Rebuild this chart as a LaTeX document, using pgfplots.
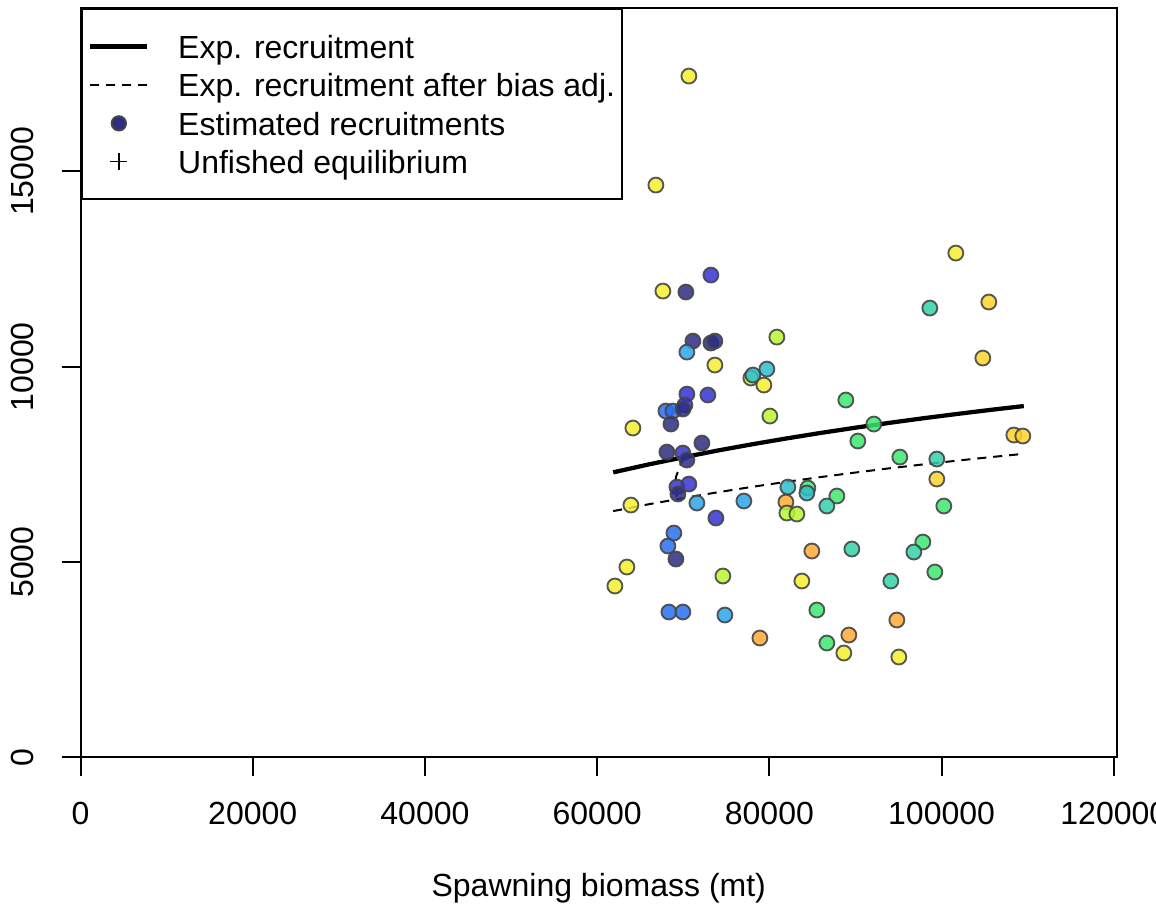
\documentclass[12pt,border=0pt]{standalone}
\usepackage{fontspec}
\setmainfont{Liberation Sans}
\usepackage{pgfplots}
\pgfplotsset{compat=1.18}
\definecolor{nv}{RGB}{45,45,130}
\definecolor{bl}{RGB}{50,50,210}
\definecolor{mb}{RGB}{40,110,240}
\definecolor{lb}{RGB}{45,165,235}
\definecolor{tl}{RGB}{45,190,205}
\definecolor{tg}{RGB}{50,210,170}
\definecolor{gr}{RGB}{60,232,110}
\definecolor{yg}{RGB}{185,245,50}
\definecolor{ye}{RGB}{245,238,45}
\definecolor{go}{RGB}{255,210,45}
\definecolor{or}{RGB}{255,170,50}
\definecolor{edgec}{RGB}{70,70,70}
\tikzset{pt/.style={draw=edgec, line width=0.7pt, fill opacity=0.85, draw opacity=0.9}}
\pgfplotstableread{
x y c
70653 17443 ye
66821 14652 ye
67634 11938 ye
70305 11913 nv
73209 12348 bl
71117 10658 nv
73209 10607 nv
73672 10658 nv
70421 10376 lb
73672 10044 ye
70421 9301 bl
72859 9276 bl
70188 9020 bl
67982 8866 mb
68795 8866 mb
69956 8917 nv
68563 8533 nv
64151 8431 ye
77852 9711 yg
78084 9788 tl
79710 9941 tl
79361 9532 ye
80871 10760 yg
80058 8738 yg
88882 9148 gr
92133 8533 gr
90276 8098 gr
95152 7688 gr
72162 8047 nv
68099 7816 nv
69956 7791 bl
70421 7612 nv
69260 6920 bl
70653 6997 bl
69376 6741 nv
63919 6459 ye
71582 6511 lb
77039 6562 lb
73790 6127 bl
68911 5743 mb
68215 5410 mb
69146 5077 nv
63454 4872 ye
62061 4386 ye
74601 4642 yg
68331 3720 mb
69956 3720 mb
74833 3643 lb
82148 6920 tl
84470 6895 gr
84354 6767 tl
81918 6536 or
87837 6690 gr
86676 6434 tg
82032 6255 yg
83193 6229 yg
84934 5282 or
89579 5333 tg
83773 4514 ye
94107 4514 tg
85515 3771 gr
78897 3054 or
86676 2926 gr
89231 3131 or
88650 2670 ye
94804 3515 or
95036 2568 ye
101654 12911 ye
98635 11503 tg
105486 11657 go
104789 10223 go
108389 8252 go
109434 8226 go
99448 7637 tg
99448 7125 go
100261 6434 gr
97823 5512 gr
96778 5256 tg
99218 4744 gr
}\recr
\begin{document}
\begin{tikzpicture}
\begin{axis}[
  scale only axis, width=388.7pt, height=281.0pt,
  xmin=0, xmax=120377, ymin=0, ymax=19187,
  axis line style={line width=0.75pt},
  every tick/.style={black, line width=0.75pt},
  tick align=outside, major tick length=7.1pt,
  xtick pos=bottom, ytick pos=left,
  xtick={0,20000,40000,60000,80000,100000,120000},
  ytick={0,5000,10000,15000},
  scaled ticks=false,
  /pgf/number format/.cd, fixed, 1000 sep={}, assume math mode=true, /pgfplots/.cd,
  tick label style={font=\fontsize{12}{14}\selectfont},
  xticklabel style={anchor=base, yshift=-18.0pt},
  yticklabel style={xshift=-10.7pt, rotate=90, anchor=base},
  xlabel={Spawning biomass (mt)},
  xlabel style={at={(axis description cs:0.5,0)}, anchor=base, yshift=-52.2pt, font=\fontsize{12}{14}\selectfont},
  legend cell align=left,
  legend style={at={(0,1)}, anchor=north west, draw=black, line width=0.75pt,
    inner xsep=2.55pt, inner ysep=9.6pt, row sep=5.4pt, column sep=10.8pt,
    font=\fontsize{12}{14}\selectfont,
    nodes={inner sep=0pt, text height=9pt, text depth=0pt}},
]
\addlegendimage{legend image code/.code={\path[draw=none,fill=none] (0pt,-2pt) rectangle (21.3pt,2pt); \draw[black, line width=1.6pt] (0pt,0pt) -- (21.3pt,0pt);}}
\addlegendentry{Exp. recruitment}
\addlegendimage{legend image code/.code={\path[draw=none,fill=none] (0pt,-2pt) rectangle (21.3pt,2pt); \draw[black, line width=0.5pt, dash pattern=on 3.2pt off 2.8pt] (0pt,0pt) -- (21.3pt,0pt);}}
\addlegendentry{Exp. recruitment after bias adj.\hspace{4pt}}
\addlegendimage{legend image code/.code={\path[draw=none,fill=none] (0pt,-2pt) rectangle (21.3pt,2pt); \filldraw[fill=nv, draw=edgec, line width=0.7pt] (10.65pt,0pt) circle (2.7pt);}}
\addlegendentry{Estimated recruitments}
\addlegendimage{legend image code/.code={\path[draw=none,fill=none] (0pt,-2pt) rectangle (21.3pt,2pt); \draw[black, line width=0.5pt] (7.5pt,0pt) -- (13.8pt,0pt) (10.65pt,-3.15pt) -- (10.65pt,3.15pt);}}
\addlegendentry{Unfished equilibrium}

\addplot[forget plot, black, line width=1.6pt] coordinates {
(61864,7296) (66000,7500) (70000,7681) (74000,7855) (78000,8015) (82000,8165)
(86000,8307) (90000,8440) (94000,8566) (98000,8685) (102000,8797) (106000,8904) (109550,8994)};
\addplot[forget plot, black, line width=0.75pt, dash pattern=on 3.4pt off 2.6pt] coordinates {
(61864,6304) (66000,6480) (70000,6636) (74000,6786) (78000,6925) (82000,7055)
(86000,7177) (90000,7292) (94000,7401) (98000,7503) (102000,7601) (106000,7693) (109200,7763)};
\addplot[forget plot, black, line width=0.75pt, dash pattern=on 3.4pt off 2.6pt] coordinates {
(70015,7688) (69144,7176) (69260,6638)};
\addplot[forget plot, scatter, only marks, mark=*, mark size=2.8pt,
  scatter src=explicit symbolic,
  scatter/classes={
    nv={pt,fill=nv}, bl={pt,fill=bl}, mb={pt,fill=mb}, lb={pt,fill=lb},
    tl={pt,fill=tl}, tg={pt,fill=tg}, gr={pt,fill=gr}, yg={pt,fill=yg},
    ye={pt,fill=ye}, go={pt,fill=go}, or={pt,fill=or}}]
  table[x=x, y=y, meta=c] {\recr};
\end{axis}
\pgfresetboundingbox
\path[use as bounding box] (-30.19pt,-55.39pt) rectangle (403.31pt,283.99pt);
\end{tikzpicture}
\end{document}
